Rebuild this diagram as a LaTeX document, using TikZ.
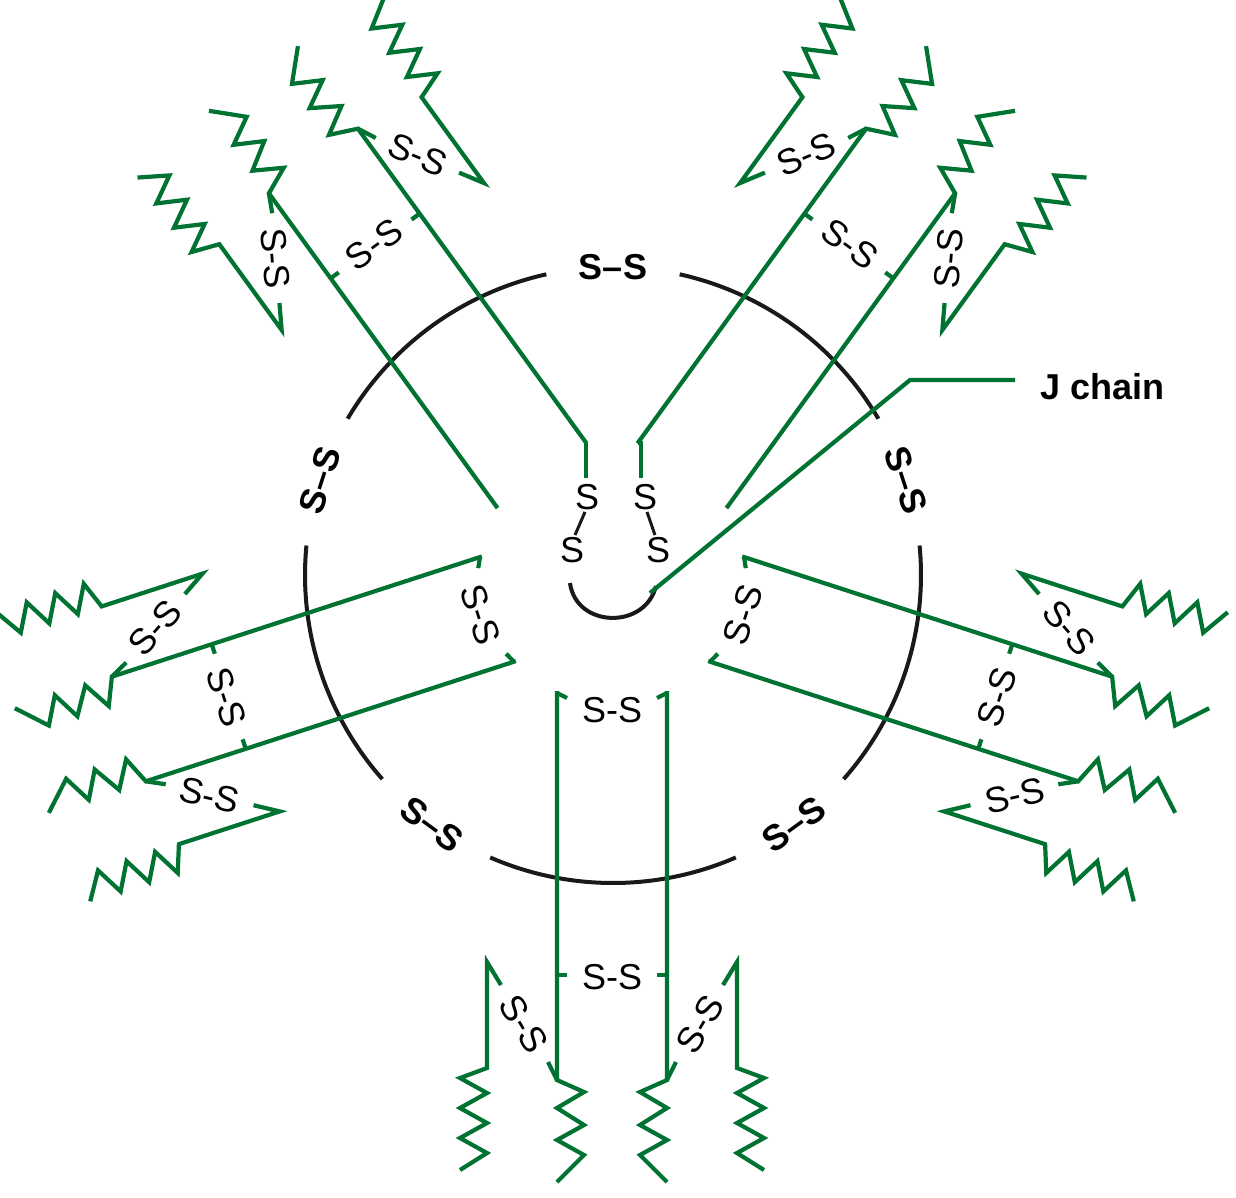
\documentclass[tikz,border=0pt]{standalone}
\usepackage{fontspec}
\setmainfont{Liberation Sans}
\usetikzlibrary{calc}
\begin{document}
\definecolor{ig}{RGB}{0,115,50}
\begin{tikzpicture}[x=1pt,y=-1pt,
  g/.style={draw=ig,line width=4.2pt,line join=miter},
  k/.style={draw=black!90,line width=4pt},
  ss/.style={font=\fontsize{36}{38}\selectfont,inner sep=0pt},
  bs/.style={font=\fontsize{36}{38}\selectfont\bfseries,inner sep=0pt}]
\useasboundingbox (0,0) rectangle (1236,1197);
\newcommand\mono[2]{%
\begin{scope}[shift={(612,572)},rotate=#1]
\pgfmathsetmacro\ra{mod(#1+720+90,180)-90}
\pgfmathsetmacro\rb{mod(#1-59+720+90,180)-90}
\pgfmathsetmacro\rc{mod(#1+59+720+90,180)-90}
% heavy chains
\draw[g] (-55,119) -- (-55,508) -- (-28,520) -- (-55,536) -- (-28,553) -- (-55,568) -- (-28,583) -- (-55,610);
\draw[g] (55,119) -- (55,508) -- (28,520) -- (55,536) -- (28,553) -- (55,568) -- (28,583) -- (55,610);
\ifnum#2=0
\draw[g] (-55,121) -- (-45,126); \draw[g] (55,121) -- (45,126);
\node[ss,rotate=\ra] (top) at (0,138) {S-S};
\fi
% middle S-S
\draw[g] (-55,403) -- (-45,403); \draw[g] (55,403) -- (45,403);
\node[ss,rotate=\ra] (mid) at (0,405) {S-S};
% light chains
\draw[g] (-111,413) -- (-125,390) -- (-125,496) -- (-152,506) -- (-125,521) -- (-152,536) -- (-125,551) -- (-152,566) -- (-125,581) -- (-152,598);
\draw[g] (111,413) -- (125,390) -- (125,496) -- (152,506) -- (125,521) -- (152,536) -- (125,551) -- (152,566) -- (125,581) -- (152,598);
\draw[g] (-55,508) -- (-64,490); \draw[g] (55,508) -- (64,490);
\node[ss,rotate=\rb] (ll) at (-88,452) {S-S};
\node[ss,rotate=\rc] (lr) at (88,452) {S-S};
\end{scope}}
% ring
\foreach \a in {90,162,234,306,378}{
  \draw[k] (613,575) ++(-\a-12.5:308) arc[start angle=-\a-12.5,end angle=-\a-59.5,radius=308];
  \pgfmathsetmacro\rr{mod(\a-90+720+90,180)-90}
  \node[bs,rotate=\rr] at ($(613,575)+(-\a:308)$) {S–S};
}
\mono{0}{0}
\mono{72}{0}
\mono{144}{2}
\mono{216}{1}
\mono{288}{0}
% stubs to J-chain region
\draw[g] (586,443) -- (586,478);
\draw[g] (638,443) -- (641,443) -- (641,478);
\node[ss] (s1) at (587,497) {S};
\node[ss] (s2) at (572,550) {S};
\node[ss] (s3) at (645,497) {S};
\node[ss] (s4) at (658,550) {S};
\draw[k,line width=3pt] (s1.south) ++(-2,2) -- ($(s2.north)+(3,-2)$);
\draw[k,line width=3pt] (s3.south) ++(2,2) -- ($(s4.north)+(-3,-2)$);
\draw[k] (570,583) .. controls (576,628) and (645,630) .. (656,586);
\coordinate (j0) at (650,593);
\coordinate (j1) at (910,380);
\coordinate (j2) at (1015,380);
\draw[g] (j0) -- (j1) -- (j2);
\node[bs,anchor=west] (jc) at (1040,387) {J chain};
\end{tikzpicture}
\end{document}
